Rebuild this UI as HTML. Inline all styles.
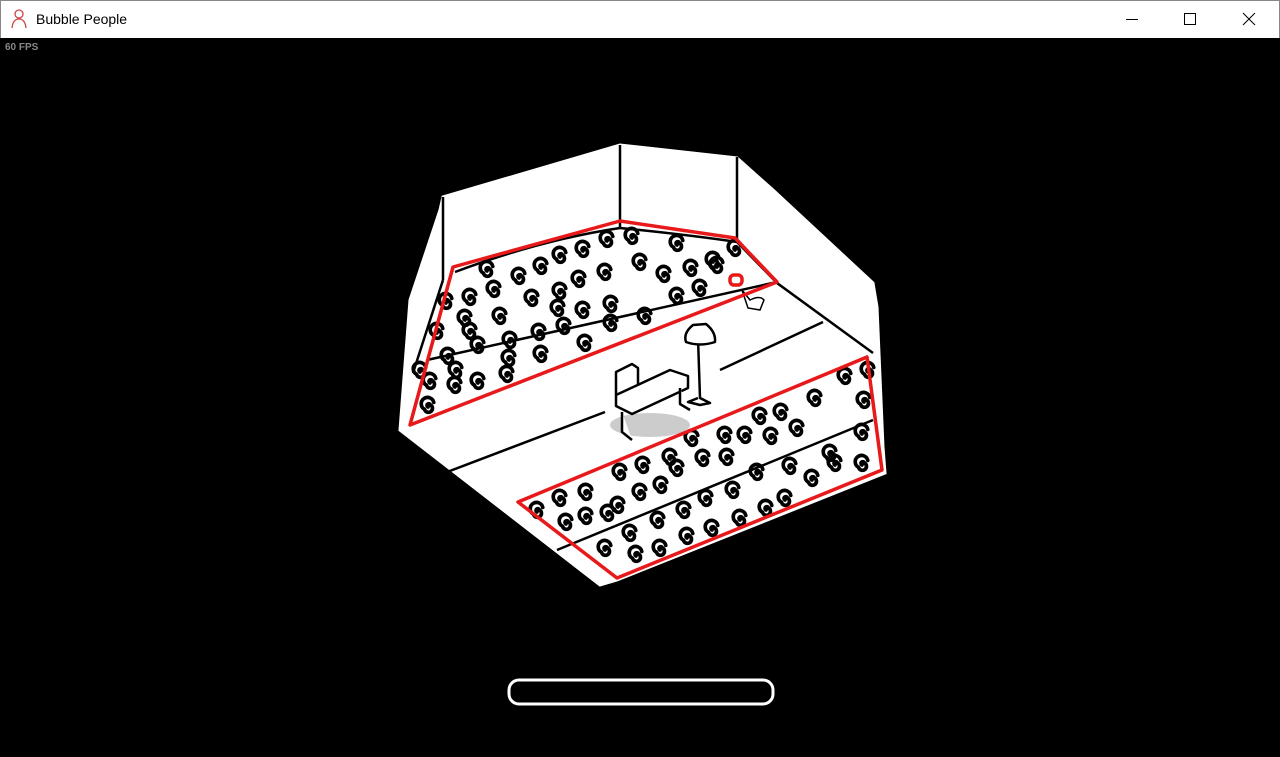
<!DOCTYPE html>
<html><head><meta charset="utf-8"><style>
html,body{margin:0;padding:0;width:1280px;height:757px;overflow:hidden;background:#000;font-family:"Liberation Sans",sans-serif}
#tb{position:absolute;left:0;top:0;width:1278px;height:37px;background:#fff;border:1px solid #888;border-bottom:none}
#tt{position:absolute;left:35px;top:10px;font-size:14px;color:#000}
#fps{position:absolute;left:5px;top:42px;font-size:10px;font-weight:bold;color:#888}
svg{position:absolute;left:0;top:0}
</style></head><body>
<div id="tb"><span id="tt">Bubble People</span></div>
<div id="fps">60 FPS</div>
<svg width="1280" height="757" viewBox="0 0 1280 757">
<defs>
<g id="s"><path d="M0,0 a1.5,1.5 0 1 1 2,-2 a3.5,3.5 0 1 1 -5,4 a5.5,5.5 0 1 1 8,-6" fill="none" stroke="#000" stroke-width="3.2" stroke-linecap="round" transform="scale(1.15)"/></g>
</defs>
<g stroke="#c44" fill="none" stroke-width="1.3"><circle cx="19" cy="14" r="4"/><path d="M12,28 Q13,19 19,19 Q25,19 26,28"/></g>
<g stroke="#000" fill="none" stroke-width="1"><line x1="1126" y1="19.5" x2="1138" y2="19.5"/><rect x="1184.5" y="13.5" width="11" height="11"/><path d="M1243,13 L1255,25 M1255,13 L1243,25"/></g>
<polygon points="443,197 620,145 737,158 773,190 873,283 877,307 883,447 885,473 617,580 600,585 400,430 410,300 440,210" fill="#fff" stroke="#fff" stroke-width="3"/>
<g stroke="#000" stroke-width="2.5" fill="none">
<line x1="620" y1="145" x2="620" y2="228"/>
<line x1="737" y1="157" x2="737" y2="240"/>
<line x1="443" y1="197" x2="443" y2="280"/>
<path d="M455,272 Q540,240 620,228 Q690,235 737,242 L777,283 L873,353"/>
<line x1="443" y1="280" x2="413" y2="373"/>
<line x1="427" y1="360" x2="777" y2="282"/>
<path d="M405,488 L605,412 M720,370 L823,322"/>
<line x1="557" y1="550" x2="873" y2="420"/>
</g>
<g>
<use href="#s" x="487" y="271"/><use href="#s" x="519" y="278"/><use href="#s" x="541" y="268"/><use href="#s" x="560" y="257"/><use href="#s" x="583" y="251"/><use href="#s" x="607" y="241"/><use href="#s" x="632" y="238"/><use href="#s" x="677" y="245"/><use href="#s" x="713" y="262"/><use href="#s" x="735" y="250"/><use href="#s" x="691" y="270"/><use href="#s" x="664" y="276"/><use href="#s" x="640" y="264"/><use href="#s" x="605" y="274"/><use href="#s" x="579" y="281"/><use href="#s" x="560" y="293"/><use href="#s" x="532" y="300"/><use href="#s" x="494" y="291"/><use href="#s" x="470" y="299"/><use href="#s" x="446" y="303"/><use href="#s" x="465" y="320"/><use href="#s" x="437" y="333"/><use href="#s" x="470" y="333"/><use href="#s" x="500" y="318"/><use href="#s" x="558" y="310"/><use href="#s" x="583" y="312"/><use href="#s" x="611" y="306"/><use href="#s" x="645" y="318"/><use href="#s" x="677" y="298"/><use href="#s" x="700" y="290"/><use href="#s" x="717" y="267"/><use href="#s" x="448" y="358"/><use href="#s" x="478" y="347"/><use href="#s" x="510" y="342"/><use href="#s" x="539" y="334"/><use href="#s" x="564" y="328"/><use href="#s" x="611" y="325"/><use href="#s" x="585" y="345"/><use href="#s" x="541" y="356"/><use href="#s" x="509" y="360"/><use href="#s" x="478" y="383"/><use href="#s" x="456" y="372"/><use href="#s" x="430" y="383"/><use href="#s" x="420" y="372"/><use href="#s" x="455" y="387"/><use href="#s" x="507" y="376"/><use href="#s" x="428" y="407"/>
<use href="#s" x="845" y="378"/><use href="#s" x="868" y="372"/><use href="#s" x="864" y="402"/><use href="#s" x="815" y="400"/><use href="#s" x="781" y="414"/><use href="#s" x="760" y="418"/><use href="#s" x="797" y="430"/><use href="#s" x="771" y="438"/><use href="#s" x="745" y="437"/><use href="#s" x="725" y="437"/><use href="#s" x="727" y="459"/><use href="#s" x="703" y="460"/><use href="#s" x="692" y="440"/><use href="#s" x="670" y="459"/><use href="#s" x="643" y="467"/><use href="#s" x="620" y="474"/><use href="#s" x="661" y="487"/><use href="#s" x="640" y="494"/><use href="#s" x="618" y="507"/><use href="#s" x="586" y="494"/><use href="#s" x="560" y="500"/><use href="#s" x="537" y="512"/><use href="#s" x="566" y="524"/><use href="#s" x="586" y="518"/><use href="#s" x="608" y="515"/><use href="#s" x="658" y="522"/><use href="#s" x="684" y="512"/><use href="#s" x="706" y="500"/><use href="#s" x="733" y="492"/><use href="#s" x="757" y="474"/><use href="#s" x="785" y="500"/><use href="#s" x="812" y="480"/><use href="#s" x="830" y="455"/><use href="#s" x="862" y="434"/><use href="#s" x="862" y="465"/><use href="#s" x="835" y="465"/><use href="#s" x="790" y="468"/><use href="#s" x="687" y="538"/><use href="#s" x="712" y="530"/><use href="#s" x="740" y="520"/><use href="#s" x="766" y="510"/><use href="#s" x="660" y="550"/><use href="#s" x="636" y="556"/><use href="#s" x="605" y="550"/><use href="#s" x="630" y="535"/><use href="#s" x="677" y="470"/>
</g>
<ellipse cx="650" cy="425" rx="40" ry="12" fill="#ccc"/>
<g stroke="#000" stroke-width="2.5" fill="#fff" stroke-linejoin="round">
<path d="M616,372 L632,364 L638,368 L638,392 L622,398 L616,394 Z"/>
<path d="M616,395 L670,370 L688,376 L688,388 L632,414 L616,406 Z"/>
<path d="M622,412 L622,432 L632,440 M680,388 L680,404 L690,410"/>
<path d="M698,338 L700,398 L710,403 L700,405 L688,402 L698,398"/>
<path d="M686,342 Q683,333 693,325 L706,324 Q716,332 715,342 Q700,347 686,342 Z"/>
</g>
<path d="M742,290 L750,300 Q760,295 764,300 L760,310 L748,308 Z" fill="#fff" stroke="#000" stroke-width="1.5"/>
<g stroke="#e8191a" stroke-width="3.5" fill="none" stroke-linejoin="round">
<polygon points="453,267 620,221 735,238 777,282 410,425"/>
<polygon points="867,357 882,470 617,578 518,502"/>
<rect x="730" y="275" width="12" height="10" rx="4"/>
</g>
<rect x="509" y="680" width="264" height="24" rx="10" fill="#000" stroke="#fff" stroke-width="3"/>
</svg>
</body></html>
